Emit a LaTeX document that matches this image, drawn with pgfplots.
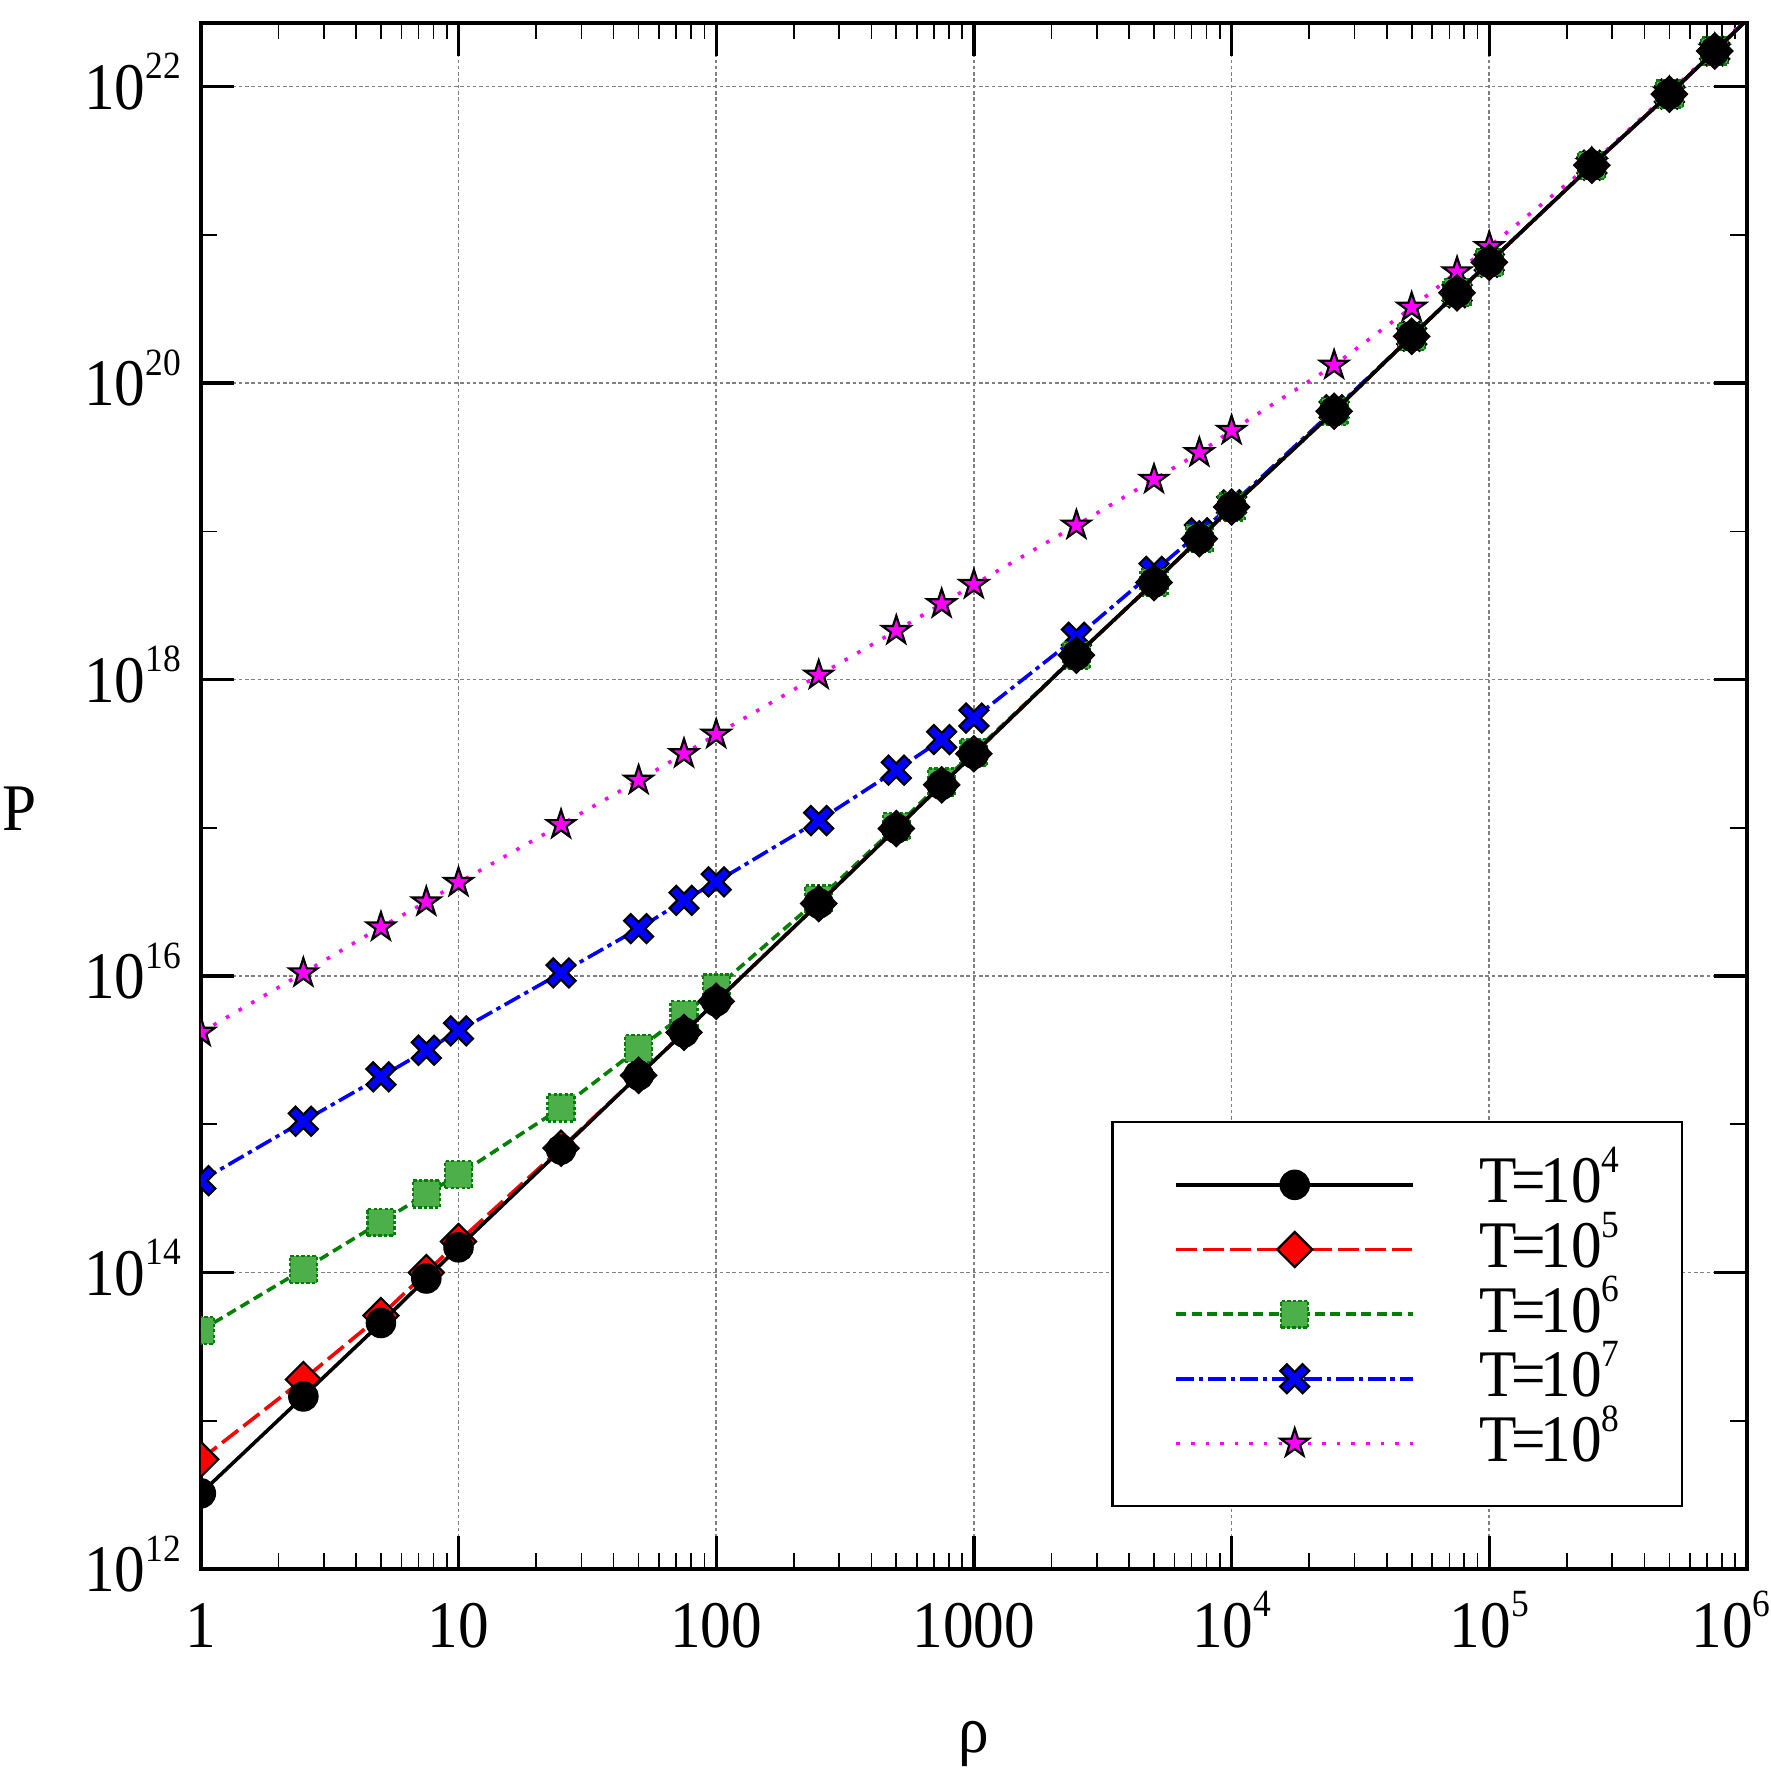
\documentclass[border=0pt]{standalone}
\usepackage{fontspec}
\setmainfont{Liberation Serif}[FakeStretch=0.92]
\usepackage{pgfplots}
\pgfplotsset{compat=1.18}
\definecolor{grline}{RGB}{0,128,0}
\definecolor{grfill}{RGB}{77,175,74}
\definecolor{mag}{RGB}{255,0,255}
\definecolor{blu}{RGB}{0,0,255}
\definecolor{rd}{RGB}{255,0,0}
\newcommand{\sups}[1]{\raisebox{5.5pt}{\fontsize{7}{8}\selectfont #1}}
\newcommand{\leg}[1]{T\kern-1pt=\kern-1pt10\smash{\sups{#1}}}
\pgfdeclareplotmark{fatx}{%
  \pgfpathmoveto{\pgfqpoint{-0.5445\pgfplotmarksize}{1.0112\pgfplotmarksize}}%
  \pgfpathlineto{\pgfqpoint{0pt}{0.4667\pgfplotmarksize}}%
  \pgfpathlineto{\pgfqpoint{0.5445\pgfplotmarksize}{1.0112\pgfplotmarksize}}%
  \pgfpathlineto{\pgfqpoint{1.0112\pgfplotmarksize}{0.5445\pgfplotmarksize}}%
  \pgfpathlineto{\pgfqpoint{0.4667\pgfplotmarksize}{0pt}}%
  \pgfpathlineto{\pgfqpoint{1.0112\pgfplotmarksize}{-0.5445\pgfplotmarksize}}%
  \pgfpathlineto{\pgfqpoint{0.5445\pgfplotmarksize}{-1.0112\pgfplotmarksize}}%
  \pgfpathlineto{\pgfqpoint{0pt}{-0.4667\pgfplotmarksize}}%
  \pgfpathlineto{\pgfqpoint{-0.5445\pgfplotmarksize}{-1.0112\pgfplotmarksize}}%
  \pgfpathlineto{\pgfqpoint{-1.0112\pgfplotmarksize}{-0.5445\pgfplotmarksize}}%
  \pgfpathlineto{\pgfqpoint{-0.4667\pgfplotmarksize}{0pt}}%
  \pgfpathlineto{\pgfqpoint{-1.0112\pgfplotmarksize}{0.5445\pgfplotmarksize}}%
  \pgfpathclose
  \pgfusepathqfillstroke}
\pgfdeclareplotmark{fstar}{%
  \pgfpathmoveto{\pgfpointpolar{90}{\pgfplotmarksize}}%
  \pgfpathlineto{\pgfpointpolar{126}{0.382\pgfplotmarksize}}%
  \pgfpathlineto{\pgfpointpolar{162}{\pgfplotmarksize}}%
  \pgfpathlineto{\pgfpointpolar{198}{0.382\pgfplotmarksize}}%
  \pgfpathlineto{\pgfpointpolar{234}{\pgfplotmarksize}}%
  \pgfpathlineto{\pgfpointpolar{270}{0.382\pgfplotmarksize}}%
  \pgfpathlineto{\pgfpointpolar{306}{\pgfplotmarksize}}%
  \pgfpathlineto{\pgfpointpolar{342}{0.382\pgfplotmarksize}}%
  \pgfpathlineto{\pgfpointpolar{18}{\pgfplotmarksize}}%
  \pgfpathlineto{\pgfpointpolar{54}{0.382\pgfplotmarksize}}%
  \pgfpathclose
  \pgfusepathqfillstroke}
\begin{document}
\begin{tikzpicture}[font=\fontsize{12.1}{14.5}\selectfont]
\begin{axis}[
  xmode=log, ymode=log,
  scale only axis, width=281pt, height=281pt,
  xmin=1, xmax=1e6, ymin=1e12, ymax=2.69e22,
  xtick={1,10,100,1000,1e4,1e5,1e6},
  xticklabels={1,10,100,1000,10\sups{4},10\sups{5},10\sups{6}\hspace*{5.8pt}},
  minor xtick={2,3,4,5,6,7,8,9,20,30,40,50,60,70,80,90,200,300,400,500,600,700,800,900,2000,3000,4000,5000,6000,7000,8000,9000,20000,30000,40000,50000,60000,70000,80000,90000,200000,300000,400000,500000,600000,700000,800000,900000},
  ytick={1e12,1e14,1e16,1e18,1e20,1e22},
  yticklabels={10\sups{12},10\sups{14},10\sups{16},10\sups{18},10\sups{20},10\sups{22}},
  minor ytick={1e13,1e15,1e17,1e19,1e21},
  tick align=inside,
  major tick length=6pt, minor tick length=3pt,
  major tick style={line width=0.6pt, black},
  minor tick style={line width=0.3pt, black},
  axis line style={line width=0.75pt},
  xmajorgrids, ymajorgrids,
  major grid style={gray, line width=0.3pt, dash pattern=on 0.65pt off 0.5pt},
  xticklabel style={anchor=base, yshift=-14.2pt, inner sep=0pt},
  yticklabel style={anchor=base east, yshift=-4.1pt, xshift=-3.45pt, inner sep=0pt},
  xlabel={ρ}, xlabel style={at={(axis description cs:0.5,-0.1185)}, anchor=base, inner sep=0pt},
  ylabel={P}, ylabel style={at={(axis description cs:-0.117,0.4777)}, anchor=base, rotate=-90, inner sep=0pt},
  clip marker paths=true,
  reverse legend,
  legend cell align=left,
  legend style={at={(0.9586,0.0401)}, anchor=south east, draw=black, line width=0.4pt, fill=white,
    inner xsep=11.3pt, inner ysep=6.6pt, row sep=2.2pt, column sep=11.8pt, nodes={inner sep=0pt}},
  legend image code/.code={\draw[mark repeat=2,mark phase=2,#1] plot coordinates {(0pt,0pt) (21.5pt,0pt) (43pt,0pt)};},
]
\addplot[mag, line width=0.65pt, dash pattern=on 0.65pt off 2pt, mark=fstar, mark size=2.7pt,
  mark options={solid, fill=mag, draw=black, line width=0.4pt}] coordinates {
(1,4.17e15) (2.5,1.05e16) (5,2.14e16) (7.5,3.16e16) (10,4.27e16)
(25,1.05e17) (50,2.09e17) (75,3.16e17) (100,4.27e17)
(250,1.07e18) (500,2.14e18) (750,3.24e18) (1000,4.37e18)
(2500,1.10e19) (5000,2.24e19) (7500,3.39e19) (10000,4.79e19)
(25000,1.32e20) (50000,3.24e20) (75000,5.62e20) (100000,8.32e20)
(250000,3.02e21) (500000,9.12e21) (750000,1.78e22) (1000000,2.88e22)};
\addlegendentry{\leg{8}}
\addplot[blu, line width=0.65pt, dash pattern=on 3.2pt off 0.9pt on 0.8pt off 0.9pt, mark=fatx, mark size=2.6pt,
  mark options={solid, fill=blu, draw=black, line width=0.4pt}] coordinates {
(1,4.17e14) (2.5,1.05e15) (5,2.09e15) (7.5,3.16e15) (10,4.27e15)
(25,1.05e16) (50,2.09e16) (75,3.24e16) (100,4.32e16)
(250,1.12e17) (500,2.45e17) (750,3.94e17) (1000,5.5e17)
(2500,1.93e18) (5000,5.37e18) (7500,9.77e18) (10000,1.51e19)
(25000,6.61e19) (50000,2.07e20) (75000,4.07e20) (100000,6.53e20)
(250000,2.95e21) (500000,8.91e21) (750000,1.74e22) (1000000,2.82e22)};
\addlegendentry{\leg{7}}
\addplot[grline, line width=0.65pt, dash pattern=on 1.8pt off 1pt, mark=square*, mark size=2.45pt,
  mark options={fill=grfill, draw=grline, dash pattern=on 0.6pt off 0.4pt, line width=0.4pt}] coordinates {
(1,4.07e13) (2.5,1.05e14) (5,2.19e14) (7.5,3.39e14) (10,4.57e14)
(25,1.29e15) (50,3.24e15) (75,5.5e15) (100,8.32e15)
(250,3.31e16) (500,1.02e17) (750,2.04e17) (1000,3.24e17)
(2500,1.46e18) (5000,4.52e18) (7500,8.91e18) (10000,1.46e19)
(25000,6.46e19) (50000,2.07e20) (75000,4.07e20) (100000,6.53e20)
(250000,2.95e21) (500000,8.91e21) (750000,1.74e22) (1000000,2.82e22)};
\addlegendentry{\leg{6}}
\addplot[rd, line width=0.65pt, dash pattern=on 3.7pt off 1.2pt, mark=square*, mark size=2.25pt,
  mark options={solid, rotate=45, fill=rd, draw=black, line width=0.4pt}] coordinates {
(1,5.5e12) (2.5,1.9e13) (5,5.13e13) (7.5,1.0e14) (10,1.62e14)
(25,6.9e14) (50,2.14e15) (75,4.17e15) (100,6.76e15)
(250,3.09e16) (500,9.89e16) (750,1.95e17) (1000,3.16e17)
(2500,1.46e18) (5000,4.52e18) (7500,8.91e18) (10000,1.46e19)
(25000,6.46e19) (50000,2.07e20) (75000,4.07e20) (100000,6.53e20)
(250000,2.95e21) (500000,8.91e21) (750000,1.74e22) (1000000,2.82e22)};
\addlegendentry{\leg{5}}
\addplot[black, line width=0.65pt, solid, mark=*, mark size=2.45pt,
  mark options={solid, fill=black, draw=black}] coordinates {
(1,3.24e12) (2.5,1.46e13) (5,4.57e13) (7.5,9.12e13) (10,1.48e14)
(25,6.76e14) (50,2.14e15) (75,4.17e15) (100,6.76e15)
(250,3.09e16) (500,9.89e16) (750,1.95e17) (1000,3.16e17)
(2500,1.46e18) (5000,4.52e18) (7500,8.91e18) (10000,1.46e19)
(25000,6.46e19) (50000,2.07e20) (75000,4.07e20) (100000,6.53e20)
(250000,2.95e21) (500000,8.91e21) (750000,1.74e22) (1000000,2.82e22)};
\addlegendentry{\leg{4}}
\coordinate (bl) at (rel axis cs:0,0);
\coordinate (tr) at (rel axis cs:1,1);
\end{axis}
\pgfresetboundingbox
\useasboundingbox ([shift={(-36.5pt,-36.7pt)}]bl) rectangle ([shift={(4.36pt,4.18pt)}]tr);
\end{tikzpicture}
\end{document}
